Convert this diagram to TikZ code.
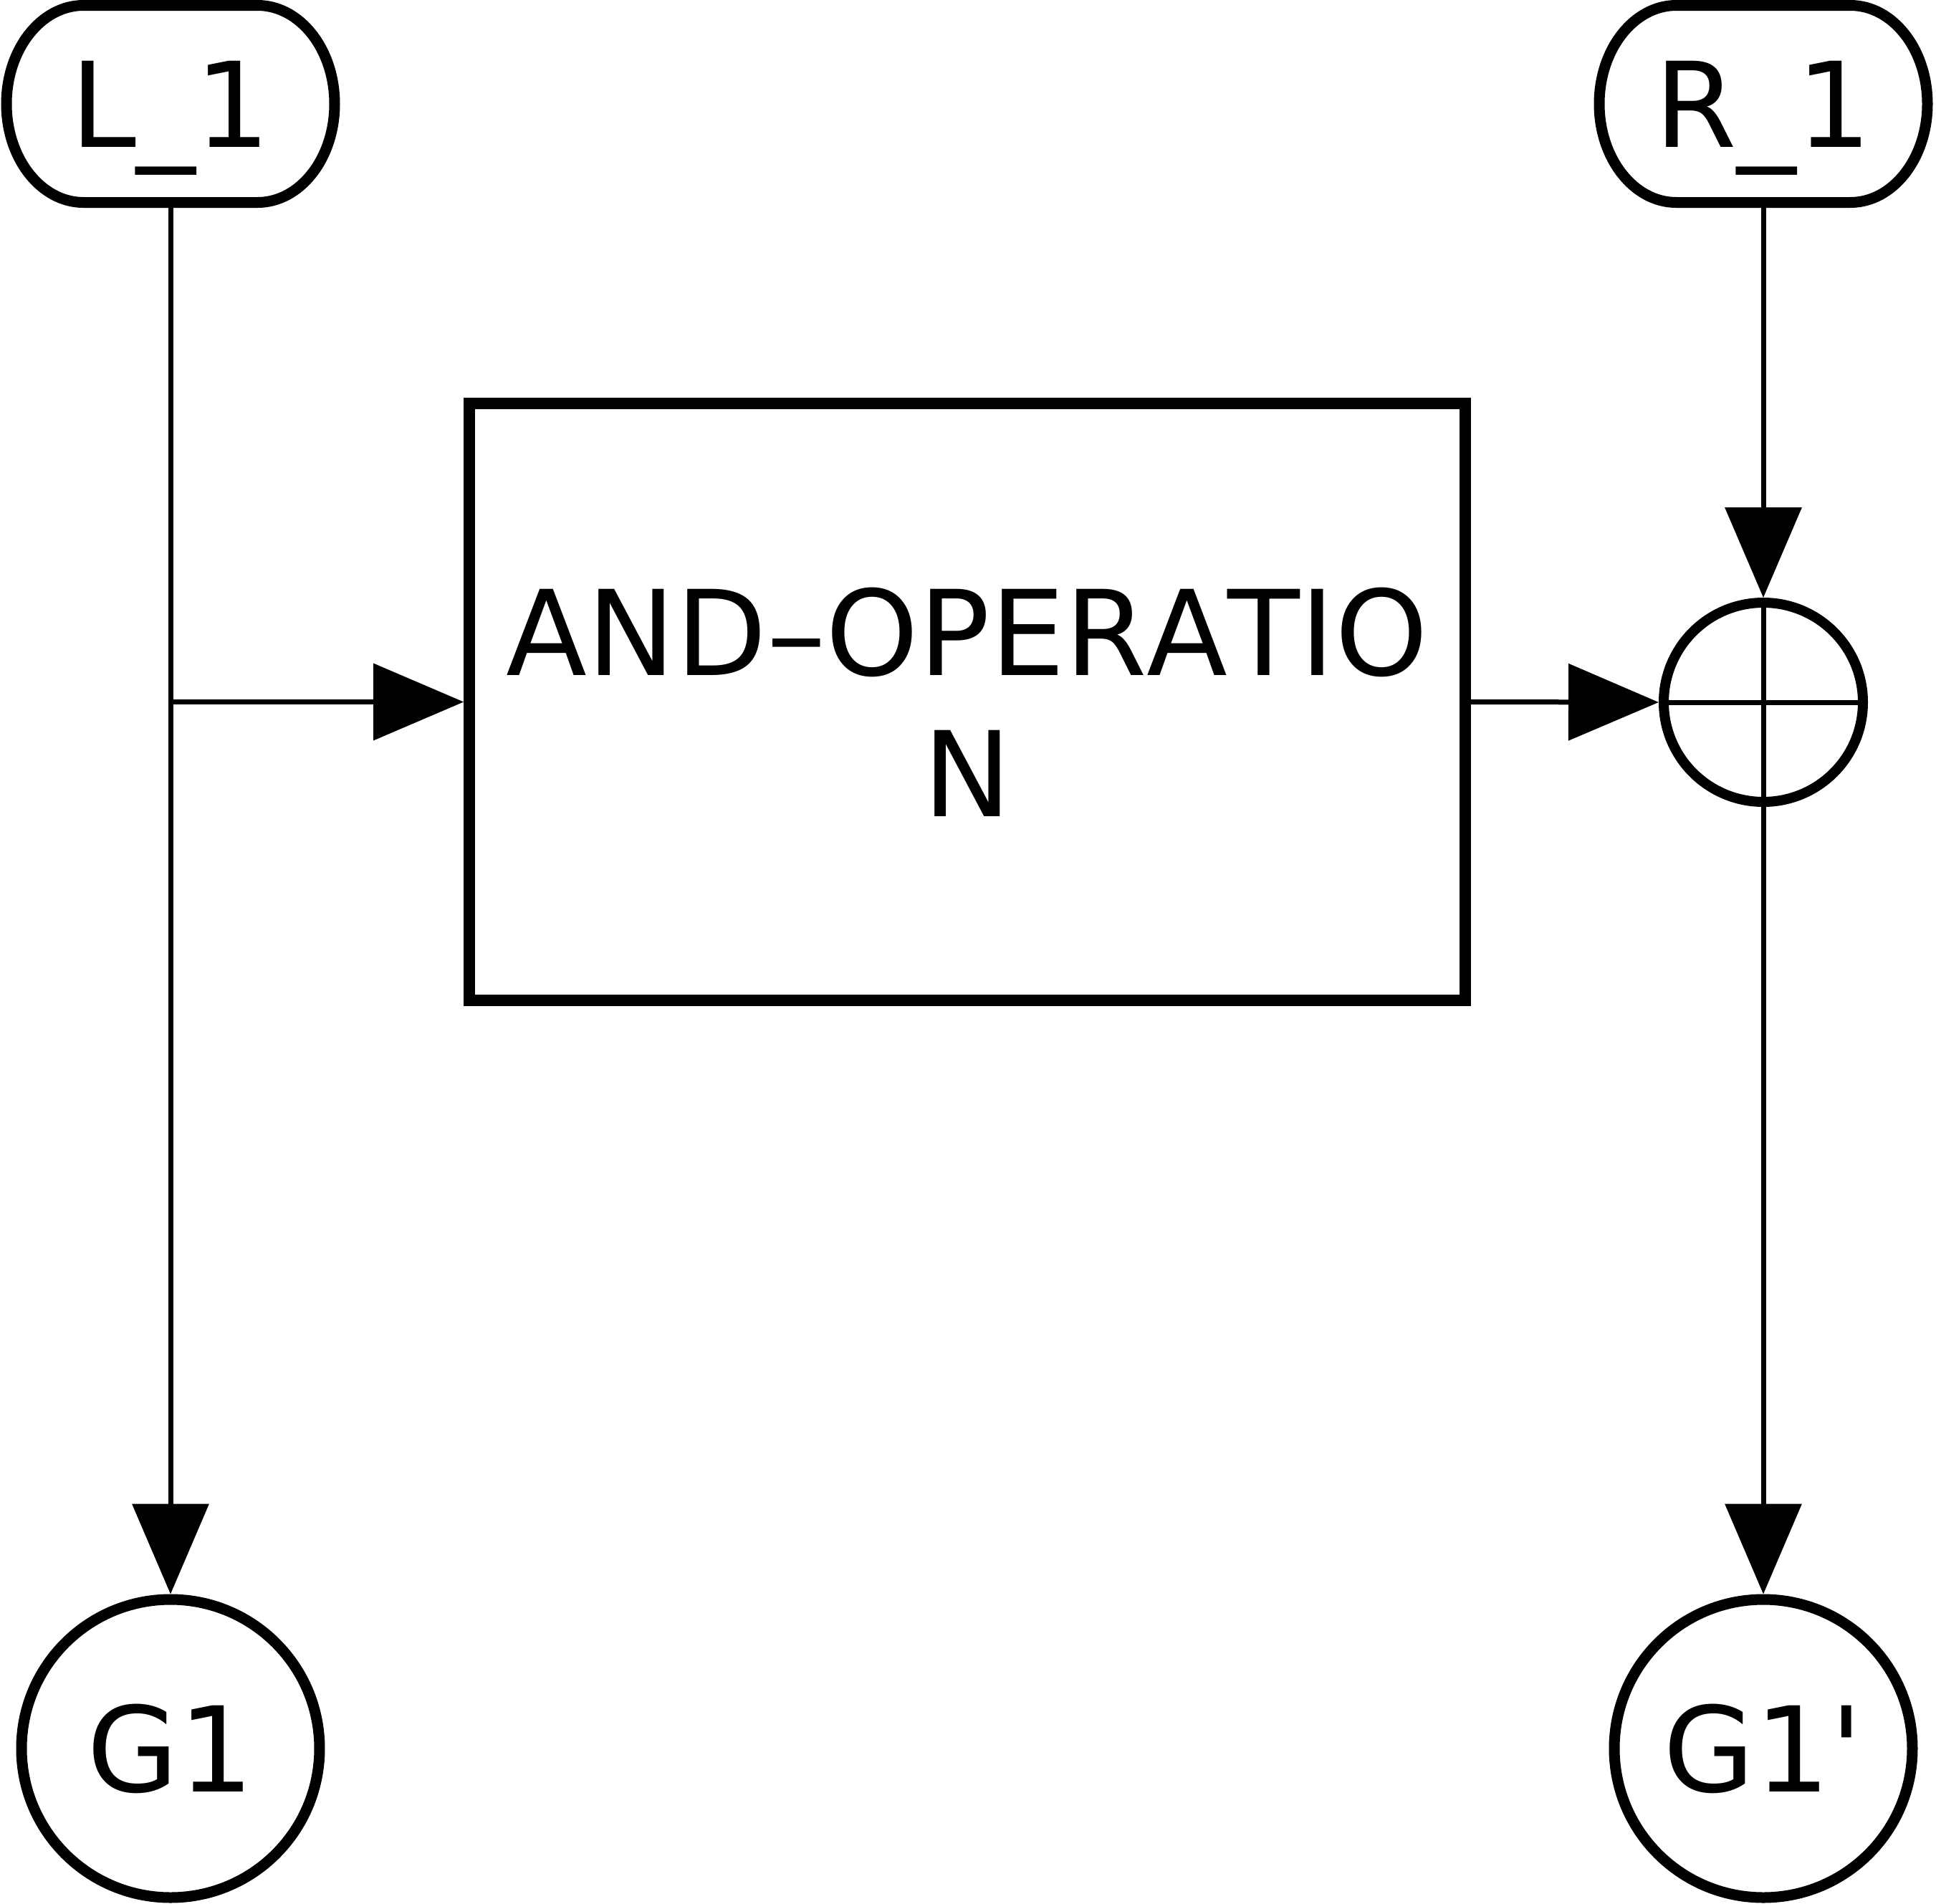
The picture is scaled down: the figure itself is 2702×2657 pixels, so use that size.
\documentclass[tikz,border=0pt]{standalone}
\usepackage{fontspec}
\setmainfont[Kerning=Off]{DejaVu Sans}
\usetikzlibrary{arrows.meta,calc}
\newcommand\lblfont{\fontsize{41.25pt}{49.25pt}\selectfont}
\tikzset{
  thickline/.style={line width=3.75pt},
  conn/.style={line width=1.75pt, -{Triangle[length=31.5pt,width=26.5pt]}},
  plainline/.style={line width=1.75pt},
  lbl/.style={font=\lblfont, text height=30pt, text depth=0pt, inner sep=0pt},
  pill/.style={lbl, rectangle, minimum width=114.5pt, minimum height=68.75pt, outer sep=0pt},
  gnode/.style={lbl, circle, draw, thickline, minimum size=104pt},
  opbox/.style={draw, line width=4pt, rectangle, minimum width=347.4pt, minimum height=208.25pt,
                inner sep=0pt, align=center, font=\lblfont},
  xorop/.style={circle, draw, line width=3.5pt, minimum size=69.5pt, inner sep=0pt},
}
\begin{document}
\begin{tikzpicture}[x=0.25pt,y=-0.25pt]
\useasboundingbox (0,0) rectangle (2702,2657);
% nodes
\node[pill] (L1) at (238,145) {L\_1};
\node[pill] (R1) at (2461,145) {R\_1};
\node[opbox] (op) at (1350,979.5) {AND\textendash OPERATIO\\N};
\node[xorop] (x) at (2461,980) {};
\node[gnode] (G1) at (238,2440) {G1};
\node[gnode] (G2) at (2461,2440) {G1\textquotesingle};
% pill outlines
\foreach \n in {L1,R1}
  \draw[thickline] ([xshift=26.875pt]\n.north west) -- ([xshift=-26.875pt]\n.north east)
    arc[start angle=90,end angle=-90,x radius=26.875pt,y radius=34.375pt]
    -- ([xshift=26.875pt]\n.south west)
    arc[start angle=270,end angle=90,x radius=26.875pt,y radius=34.375pt] -- cycle;
% cross inside the xor circle
\draw[plainline] (x.north) -- (x.south) (x.west) -- (x.east);
% connectors
\coordinate (j) at (L1.south |- op.west);
\draw[conn] (L1.south) -- (G1.north);
\draw[conn] (j) -- (op.west);
\draw[conn] (op.east) -- (x.west);
\draw[conn] (R1.south) -- (x.north);
\draw[conn] (x.south) -- (G2.north);
\end{tikzpicture}
\end{document}
